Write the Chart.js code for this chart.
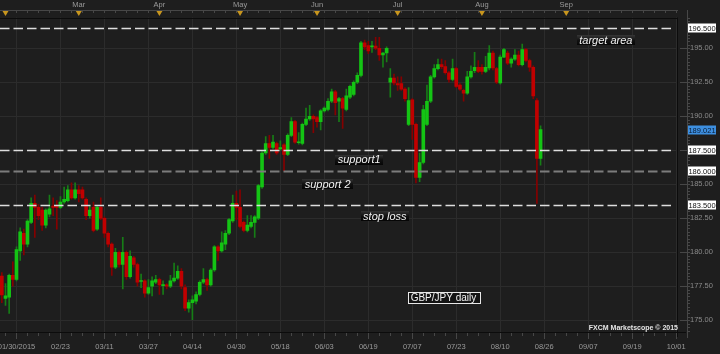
<!DOCTYPE html>
<html>
<head>
<meta charset="utf-8">
<script src="https://cdn.jsdelivr.net/npm/chart.js@4.4.0/dist/chart.umd.min.js"></script>
<style>
html, body { margin: 0; padding: 0; background: #1e1e1e; }
</style>
</head>
<body>
<canvas id="gbpjpy_chart" width="720" height="354"></canvas>
<script>
// 日足データ (GBP/JPY) 始値・高値・安値・終値
const openPrices = [
  178.26, 176.6, 176.7, 178.3, 178.0, 180.1, 181.4, 180.6, 182.2, 183.6,
  183.3, 183.1, 182.0, 182.8, 183.4, 183.35, 183.3, 183.7, 183.8, 184.6,
  184.0, 184.6, 184.6, 183.9, 182.7, 183.3, 181.7, 183.3, 182.5, 181.4,
  180.6, 178.9, 180.0, 179.1, 180.0, 178.2, 179.6, 179.1, 177.85, 177.9,
  177.0, 177.5, 177.8, 178.0, 177.55, 177.6, 177.5, 177.9, 178.1, 178.6,
  177.4, 175.9, 176.3, 176.4, 176.9, 177.8, 178.0, 177.6, 178.7, 180.4,
  180.1, 180.6, 181.4, 182.3, 183.6, 183.3, 182.2, 181.6, 181.9, 182.2,
  182.5, 184.8, 187.3, 188.0, 187.7, 188.0, 187.6, 187.9, 187.2, 188.6,
  189.6, 188.05, 188.0, 189.4, 189.8, 190.0, 189.9, 189.6, 190.4, 190.5,
  191.1, 191.8, 191.1, 191.3, 190.5, 191.4, 191.6, 192.5, 193.0, 195.4,
  195.2, 195.1, 195.15, 195.0, 194.5, 194.65, 192.5, 192.8, 192.4, 192.4,
  192.0, 189.4, 191.2, 189.4, 185.5, 186.6, 189.4, 191.1, 192.9, 193.5,
  193.8, 193.65, 193.2, 192.7, 193.5, 192.3, 191.9, 191.7, 192.9, 193.35,
  193.6, 193.6, 193.3, 193.55, 194.65, 193.5, 192.45, 194.35, 194.65, 193.9,
  194.2, 194.5, 193.8, 194.9, 194.1, 193.6, 191.15, 186.9
];
const highPrices = [
  178.5, 177.7, 178.4, 179.3, 180.4, 181.8, 181.7, 182.4, 184.0, 184.2,
  183.5, 183.3, 183.2, 184.2, 184.0, 183.8, 184.1, 184.8, 184.9, 185.1,
  185.1, 184.9, 184.8, 184.0, 183.4, 183.7, 183.4, 184.0, 182.6, 181.5,
  180.7, 180.3, 180.1, 181.1, 180.1, 180.1, 179.7, 179.2, 178.4, 178.0,
  178.0, 178.2, 178.3, 178.1, 177.9, 177.7, 178.3, 179.2, 179.0, 178.8,
  177.6, 176.5, 176.8, 177.1, 177.9, 178.8, 178.1, 178.8, 180.5, 180.5,
  181.5, 181.6, 182.5, 184.2, 184.5, 184.6, 182.3, 182.7, 182.7, 182.7,
  185.0, 187.4, 188.5, 188.6, 188.6, 188.1, 188.2, 188.0, 188.7, 189.9,
  189.7, 188.8, 189.5, 190.6, 190.8, 190.1, 190.0, 190.5, 190.7, 191.3,
  192.0, 191.9, 191.4, 191.4, 192.0, 192.3, 192.6, 193.2, 195.5, 195.6,
  195.5, 195.5, 195.8, 195.8, 194.7, 195.1, 193.5, 193.1, 192.9, 192.9,
  192.1, 192.1, 191.3, 189.5, 187.3, 190.8, 192.3, 193.0, 193.8, 194.2,
  194.2, 194.1, 193.3, 194.2, 193.6, 192.4, 192.0, 193.3, 193.7, 194.7,
  194.1, 193.8, 194.4, 195.2, 194.8, 193.6, 194.5, 195.0, 194.8, 194.3,
  194.9, 194.8, 195.3, 195.0, 194.2, 193.7, 191.3, 189.3
];
const lowPrices = [
  176.3, 176.1, 175.5, 177.5, 177.9, 179.4, 179.8, 180.4, 182.1, 181.1,
  182.4, 181.6, 181.8, 182.6, 182.7, 181.7, 183.2, 183.6, 183.7, 183.9,
  183.9, 183.7, 183.9, 182.4, 182.5, 181.5, 181.6, 182.4, 181.1, 180.4,
  178.3, 178.8, 178.9, 177.3, 178.0, 178.1, 178.9, 177.5, 177.4, 176.7,
  176.9, 176.8, 177.7, 176.9, 176.9, 177.3, 177.4, 177.8, 178.0, 177.3,
  175.7, 175.6, 175.05, 176.2, 176.8, 177.7, 177.2, 177.5, 178.6, 179.4,
  180.0, 180.2, 181.3, 182.2, 182.4, 181.8, 181.5, 181.5, 181.8, 181.1,
  182.4, 184.7, 187.2, 186.9, 187.6, 187.2, 187.5, 186.0, 187.1, 188.5,
  188.0, 187.95, 187.9, 189.3, 189.7, 188.8, 189.2, 189.0, 190.3, 190.4,
  191.0, 190.1, 189.6, 189.1, 190.4, 191.3, 191.5, 192.4, 192.9, 194.9,
  194.6, 194.7, 194.9, 194.1, 193.6, 194.0, 191.4, 192.3, 191.9, 191.9,
  191.1, 189.3, 188.3, 185.1, 185.2, 186.5, 189.3, 191.0, 192.8, 193.4,
  193.5, 193.1, 192.5, 192.6, 192.1, 191.9, 191.1, 191.6, 192.8, 193.2,
  193.2, 193.1, 193.2, 193.4, 193.4, 192.4, 192.35, 194.3, 193.8, 193.6,
  194.1, 193.7, 193.7, 194.0, 193.3, 191.3, 183.6, 186.4
];
const closePrices = [
  176.86, 176.8, 178.3, 178.0, 180.2, 181.5, 180.6, 182.3, 183.6, 183.3,
  182.7, 182.0, 183.1, 183.2, 183.3, 183.3, 183.7, 183.9, 184.6, 184.0,
  184.6, 184.3, 184.0, 182.7, 183.1, 181.6, 183.3, 182.5, 181.4, 180.6,
  178.9, 180.0, 179.1, 180.0, 178.2, 179.7, 179.1, 177.8, 177.9, 177.0,
  177.4, 177.9, 178.0, 177.6, 177.6, 177.5, 177.9, 178.1, 178.6, 177.5,
  175.9, 176.3, 176.5, 176.9, 177.8, 178.0, 177.6, 178.7, 180.4, 180.1,
  180.7, 181.4, 182.4, 183.6, 183.3, 181.9, 181.6, 182.0, 182.2, 182.6,
  184.9, 187.3, 188.0, 187.7, 188.1, 187.3, 187.7, 187.2, 188.6, 189.6,
  188.1, 188.1, 189.4, 189.8, 190.0, 189.8, 189.6, 190.4, 190.6, 191.1,
  191.8, 191.0, 191.3, 190.6, 191.5, 192.2, 192.5, 193.0, 195.4, 195.1,
  194.8, 195.15, 195.0, 194.5, 194.65, 195.0, 192.8, 192.45, 192.3, 192.0,
  191.3, 191.15, 189.4, 185.5, 186.6, 190.5, 191.1, 192.9, 193.5, 193.8,
  193.65, 193.2, 192.7, 193.5, 192.2, 192.0, 191.7, 192.9, 193.3, 193.6,
  193.3, 193.3, 193.6, 194.65, 193.55, 192.5, 194.35, 194.9, 193.9, 194.2,
  194.5, 193.8, 194.9, 194.1, 193.6, 191.5, 186.9, 189.021
];

// 横軸: 1本=1スロット、先の空白も含めた総スロット数
const slotCount = 185;
// 日付ラベル (スロット4から12本ごと)
const dateTicks = ['01/30/2015', '02/23', '03/11', '03/27', '04/14', '04/30', '05/18', '06/03',
  '06/19', '07/07', '07/23', '08/10', '08/26', '09/07', '09/19', '10/01'];
// 上部の月マーカー
const monthNames = ['', 'Mar', 'Apr', 'May', 'Jun', 'Jul', 'Aug', 'Sep'];
const monthSlots = [1, 21, 43, 65, 86, 108, 131, 154];
// 縦軸の目盛
const yTicks = [175, 177.5, 180, 182.5, 185, 187.5, 190, 192.5, 195];
// 水平ライン
const levelPrices = [196.5, 187.5, 186.0, 183.5];
const lastPrice = 189.021;
// 注記
const noteTexts = ['target area', 'support1', 'support 2', 'stop loss'];
const noteSlots = [164.8, 97.5, 88.9, 104.5];
const notePrices = [195.57, 186.79, 185.02, 182.67];
const titleText = 'GBP/JPY daily';
const titleSlot = 120.5;
const titlePrice = 176.68;

// カテゴリラベルを作成
let slotLabels = [];
for (let i = 0; i < slotCount; i++) {
  slotLabels.push('');
}
dateTicks.forEach(function(t, k) {
  slotLabels[4 + k * 12] = t;
});

const wickData = highPrices.map(function(h, i) { return [lowPrices[i], h]; });
const bodyData = openPrices.map(function(o, i) { return [o, closePrices[i]]; });
const isUp = openPrices.map(function(o, i) { return closePrices[i] >= o; });

const axisFont = { family: 'Liberation Sans', size: 7.5 };

// 飾り (背景・水平線・注記・軸の目盛) を描くプラグイン
const chartDecor = {
  id: 'chartDecor',
  beforeDraw(chart) {
    const c = chart.ctx;
    c.save();
    c.fillStyle = '#1e1e1e';
    c.fillRect(0, 0, chart.width, chart.height);
    c.restore();
  },
  afterDatasetsDraw(chart) {
    const c = chart.ctx;
    const xs = chart.scales.x;
    const ys = chart.scales.y;
    const a = chart.chartArea;
    c.save();

    // 水平ライン
    levelPrices.forEach(function(p, i) {
      const y = Math.round(ys.getPixelForValue(p)) + 0.5;
      const gray = (i === 2);
      c.strokeStyle = gray ? '#7c7c7c' : '#dedede';
      c.lineWidth = gray ? 2 : 1.3;
      c.setLineDash([9.5, 4]);
      c.beginPath();
      c.moveTo(a.left, y);
      c.lineTo(a.right - 3, y);
      c.stroke();
    });
    c.setLineDash([]);

    // 枠線
    c.strokeStyle = '#0c0c0c';
    c.lineWidth = 1;
    c.beginPath();
    c.moveTo(a.left, Math.round(a.top) + 0.5);
    c.lineTo(a.right, Math.round(a.top) + 0.5);
    c.moveTo(a.right - 0.5, a.top);
    c.lineTo(a.right - 0.5, a.bottom + 5);
    c.moveTo(a.left, a.bottom + 0.5);
    c.lineTo(a.right + 8, a.bottom + 0.5);
    c.stroke();

    // 上部の帯
    c.strokeStyle = '#474747';
    c.beginPath();
    c.moveTo(a.left, 10.5);
    c.lineTo(a.right, 10.5);
    for (let i = 1; i < slotCount; i += 3) {
      const x = Math.round(xs.getPixelForValue(i)) + 0.5;
      c.moveTo(x, 10);
      c.lineTo(x, 13);
    }
    // 右軸の線と目盛
    c.moveTo(a.right + 9.5, 10);
    c.lineTo(a.right + 9.5, a.bottom + 6);
    for (let v = 174.25; v < 197.3; v += 0.25) {
      const y = Math.round(ys.getPixelForValue(v)) + 0.5;
      c.moveTo(a.right + 10, y);
      c.lineTo(a.right + 12, y);
    }
    yTicks.forEach(function(v) {
      const y = Math.round(ys.getPixelForValue(v)) + 0.5;
      c.moveTo(a.right + 2, y);
      c.lineTo(a.right + 9, y);
    });
    // 下部の目盛
    for (let i = 1; i < slotCount; i += 3) {
      const x = Math.round(xs.getPixelForValue(i)) + 0.5;
      c.moveTo(x, a.bottom + 1);
      c.lineTo(x, a.bottom + 4);
    }
    dateTicks.forEach(function(t, k) {
      const x = Math.round(xs.getPixelForValue(4 + k * 12)) + 0.5;
      c.moveTo(x, a.bottom + 1);
      c.lineTo(x, a.bottom + 7);
    });
    c.stroke();

    // 月マーカー
    c.font = '7.5px "Liberation Sans"';
    c.textAlign = 'center';
    c.textBaseline = 'middle';
    monthSlots.forEach(function(s, i) {
      const x = xs.getPixelForValue(s);
      c.fillStyle = '#c8961e';
      c.beginPath();
      c.moveTo(x - 3, 11);
      c.lineTo(x + 3, 11);
      c.lineTo(x, 16);
      c.closePath();
      c.fill();
      if (monthNames[i]) {
        c.fillStyle = '#9a9a9a';
        c.fillText(monthNames[i], x, 5);
      }
    });

    // 注記ボックス
    c.font = 'italic 11px "Liberation Sans"';
    noteTexts.forEach(function(t, i) {
      const x = xs.getPixelForValue(noteSlots[i]);
      const y = ys.getPixelForValue(notePrices[i]);
      const w = c.measureText(t).width + 5;
      const g = c.createLinearGradient(0, y - 5, 0, y + 5);
      g.addColorStop(0, '#333333');
      g.addColorStop(0.5, '#111111');
      g.addColorStop(1, '#050505');
      c.fillStyle = g;
      c.fillRect(Math.round(x - w / 2), Math.round(y - 5), Math.round(w), 10);
      c.fillStyle = '#f2f2f2';
      c.fillText(t, x, y + 0.5);
    });

    // タイトルボックス
    c.font = '10px "Liberation Sans"';
    const tx = xs.getPixelForValue(titleSlot);
    const ty = ys.getPixelForValue(titlePrice);
    const tw = c.measureText(titleText).width + 6;
    c.fillStyle = '#141414';
    c.fillRect(Math.round(tx - tw / 2) + 0.5, Math.round(ty - 5.5) + 0.5, Math.round(tw), 11);
    c.strokeStyle = '#e8e8e8';
    c.strokeRect(Math.round(tx - tw / 2) + 0.5, Math.round(ty - 5.5) + 0.5, Math.round(tw), 11);
    c.fillStyle = '#f2f2f2';
    c.fillText(titleText, tx, ty + 0.5);

    // 右軸の価格ボックス
    c.font = '7.5px "Liberation Sans"';
    levelPrices.forEach(function(p) {
      const y = Math.round(ys.getPixelForValue(p));
      c.fillStyle = '#ffffff';
      c.fillRect(a.right + 10, y - 4.5, 28, 9);
      c.fillStyle = '#111111';
      c.fillText(p.toFixed(3), a.right + 24, y + 0.5);
    });
    const ly = Math.round(ys.getPixelForValue(lastPrice));
    c.fillStyle = '#3d8fe0';
    c.fillRect(a.right + 10, ly - 4.5, 28, 9);
    c.fillStyle = '#0a1a30';
    c.fillText(lastPrice.toFixed(3), a.right + 24, ly + 0.5);

    // 透かし
    c.font = 'bold 7px "Liberation Sans"';
    c.textAlign = 'right';
    c.textBaseline = 'alphabetic';
    c.fillStyle = '#e6e6e6';
    c.fillText('FXCM Marketscope \u00a9 2015', a.right, a.bottom - 2);

    c.restore();
  }
};

const ctx = document.getElementById('gbpjpy_chart').getContext('2d');
const chart = new Chart(ctx, {
  type: 'bar',
  data: {
    labels: slotLabels,
    datasets: [
      {
        label: 'body',
        data: bodyData,
        backgroundColor: isUp.map(function(u) { return u ? '#14c414' : '#c00000'; }),
        barThickness: 3,
        minBarLength: 1,
        grouped: false,
        order: 0
      },
      {
        label: 'wick',
        data: wickData,
        backgroundColor: isUp.map(function(u) { return u ? '#167d16' : '#850000'; }),
        barThickness: 1,
        grouped: false,
        order: 1
      }
    ]
  },
  options: {
    responsive: false,
    animation: false,
    layout: { padding: { top: 17.5, left: 0, right: 0, bottom: 0 } },
    plugins: {
      legend: { display: false },
      tooltip: { enabled: false }
    },
    scales: {
      x: {
        type: 'category',
        offset: true,
        grid: { color: '#2c2c2c', drawTicks: false, offset: false },
        border: { display: false },
        ticks: {
          autoSkip: false,
          maxRotation: 0,
          padding: 10,
          color: '#9a9a9a',
          font: axisFont,
          callback: function(v, i) { return slotLabels[i] || null; }
        },
        afterFit: function(s) {
          s.height = 22;
          s.paddingLeft = 0;
          s.paddingRight = 0;
        }
      },
      y: {
        position: 'right',
        min: 174.14,
        max: 197.26,
        afterBuildTicks: function(s) {
          s.ticks = yTicks.map(function(v) { return { value: v }; });
        },
        grid: { color: '#2c2c2c', drawTicks: false },
        border: { display: false },
        ticks: {
          padding: 12,
          color: '#8a8a8a',
          font: axisFont,
          callback: function(v) { return Number(v).toFixed(2); }
        },
        afterFit: function(s) {
          s.width = 42;
          s.paddingTop = 0;
          s.paddingBottom = 0;
        }
      }
    }
  },
  plugins: [chartDecor]
});
</script>
</body>
</html>
